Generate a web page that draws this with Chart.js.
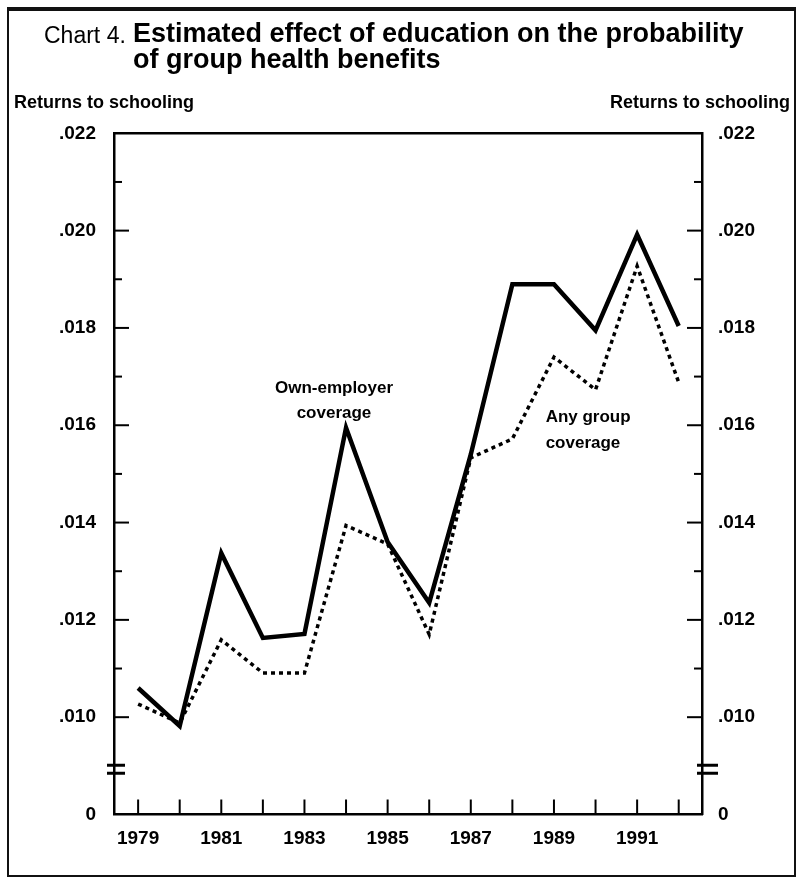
<!DOCTYPE html>
<html><head><meta charset="utf-8">
<script src="https://cdn.jsdelivr.net/npm/chart.js@4.4.1/dist/chart.umd.min.js"></script>
<style>
html,body{margin:0;padding:0;background:#fff;}
#wrap{position:relative;width:802px;height:879px;overflow:hidden;font-family:"Liberation Sans",Arial,sans-serif;color:#000;}
canvas{position:absolute;left:0;top:0;}
.frame{position:absolute;background:#111;}
.t{position:absolute;white-space:nowrap;}
</style></head><body>
<div id="wrap">
<canvas id="c" width="802" height="879"></canvas>
<div class="frame" style="left:7px;top:7px;width:789px;height:4px"></div>
<div class="frame" style="left:7px;top:7px;width:2px;height:870px"></div>
<div class="frame" style="left:794px;top:7px;width:2px;height:870px"></div>
<div class="frame" style="left:7px;top:875px;width:789px;height:2px"></div>
<div class="t" style="left:44px;top:22px;font-size:23px;line-height:26px;">Chart 4.</div>
<div class="t" style="left:133px;top:20px;font-size:27px;line-height:26px;font-weight:bold">Estimated effect of education on the probability<br>of group health benefits</div>
<div class="t" style="left:14px;top:93px;font-size:18px;line-height:18px;font-weight:bold">Returns to schooling</div>
<div class="t" style="right:12px;top:93px;font-size:18px;line-height:18px;font-weight:bold">Returns to schooling</div>
</div>
<script>
// ---- data ----
const years = [1979,1980,1981,1982,1983,1984,1985,1986,1987,1988,1989,1990,1991,1992];
const yearLabels = ['1979','','1981','','1983','','1985','','1987','','1989','','1991',''];
const ownEmployer = [0.0106,0.00982,0.01337,0.01163,0.01171,0.01595,0.0136,0.01235,0.0154,0.0189,0.0189,0.01795,0.01992,0.01804];
const anyGroup   = [0.01027,0.00988,0.01159,0.01091,0.01091,0.01394,0.01356,0.0117,0.01533,0.01572,0.0174,0.01673,0.01927,0.01688];
const yTickValues = [0.008,0.010,0.011,0.012,0.013,0.014,0.015,0.016,0.017,0.018,0.019,0.020,0.021,0.022];
const yTickLabels = ['0','.010','','.012','','.014','','.016','','.018','','.020','','.022'];
const ownText = ['Own-employer','coverage'];
const anyText = ['Any group','coverage'];

const FONT = '"Liberation Sans", Arial, sans-serif';

const decor = {
  id: 'decor',
  afterDatasetsDraw(chart) {
    const {ctx, scales} = chart;
    ctx.save();
    ctx.fillStyle = '#000';
    ctx.font = 'bold 17px ' + FONT;
    ctx.textBaseline = 'alphabetic';
    ctx.textAlign = 'center';
    let x = scales.x.getPixelForValue(1983.71), y = scales.y.getPixelForValue(0.01666);
    ownText.forEach((s, i) => ctx.fillText(s, x, y + i * 25));
    ctx.textAlign = 'left';
    x = scales.x.getPixelForValue(1988.80); y = scales.y.getPixelForValue(0.01607);
    anyText.forEach((s, i) => ctx.fillText(s, x, y + i * 26));
    ctx.restore();
  },
  afterDraw(chart) {
    const {ctx, chartArea: a, scales} = chart;
    const line = (x1, y1, x2, y2) => { ctx.beginPath(); ctx.moveTo(x1, y1); ctx.lineTo(x2, y2); ctx.stroke(); };
    ctx.save();
    ctx.strokeStyle = '#000';
    ctx.lineWidth = 2.5;
    line(a.left - 1, a.top, a.right + 1, a.top);
    ctx.lineWidth = 2;
    scales.y.ticks.forEach((t, i) => {
      if (t.value < 0.0085 || t.value > 0.0215) return;
      const py = scales.y.getPixelForValue(t.value);
      const len = yTickLabels[i] ? 15 : 8;
      line(a.left, py, a.left + len, py);
      line(a.right, py, a.right - len, py);
    });
    scales.x.ticks.forEach(t => {
      const px = scales.x.getPixelForValue(t.value);
      line(px, a.bottom, px, a.bottom - 15);
    });
    // axis break marks
    const pb = scales.y.getPixelForValue(0.00893);
    ctx.lineWidth = 3;
    [-4, 4].forEach(d => {
      line(a.left - 7, pb + d, a.left + 11, pb + d);
      line(a.right - 5, pb + d, a.right + 16, pb + d);
    });
    ctx.restore();
  }
};

const yAxis = (pos, w, pad) => ({
  type: 'linear', position: pos, min: 0.008, max: 0.022,
  afterBuildTicks: s => { s.ticks = yTickValues.map(v => ({value: v})); },
  afterFit: s => { s.width = w; },
  ticks: {autoSkip: false, padding: pad, color: '#000', font: {family: FONT, size: 19, weight: 'bold'},
          callback: (v, i) => yTickLabels[i]},
  grid: {display: false, drawTicks: false},
  border: {display: true, color: '#000', width: 2.5}
});

new Chart(document.getElementById('c'), {
  type: 'line',
  data: {
    datasets: [
      {label: 'Own-employer coverage', data: years.map((yr, i) => ({x: yr, y: ownEmployer[i]})),
       borderColor: '#000', borderWidth: 4.5, pointRadius: 0, tension: 0, borderJoinStyle: 'miter', fill: false, yAxisID: 'y'},
      {label: 'Any group coverage', data: years.map((yr, i) => ({x: yr, y: anyGroup[i]})),
       borderColor: '#000', borderWidth: 3.5, borderDash: [4, 4], pointRadius: 0, tension: 0, fill: false, yAxisID: 'y'}
    ]
  },
  options: {
    responsive: false, animation: false, devicePixelRatio: 1,
    layout: {padding: {top: 133.3, left: 0, right: 0, bottom: 0}},
    plugins: {legend: {display: false}, tooltip: {enabled: false}},
    scales: {
      x: {type: 'linear', position: 'bottom', min: 1978.42, max: 1992.56,
          afterBuildTicks: s => { s.ticks = years.map(v => ({value: v})); },
          afterFit: s => { s.height = 64.5; },
          ticks: {autoSkip: false, maxRotation: 0, padding: 13, color: '#000', font: {family: FONT, size: 19, weight: 'bold'},
                  callback: (v, i) => yearLabels[i]},
          grid: {display: false, drawTicks: false},
          border: {display: true, color: '#000', width: 2.5}},
      y: yAxis('left', 114, 18),
      y2: yAxis('right', 100, 16)
    }
  },
  plugins: [decor]
});
</script>
</body></html>
